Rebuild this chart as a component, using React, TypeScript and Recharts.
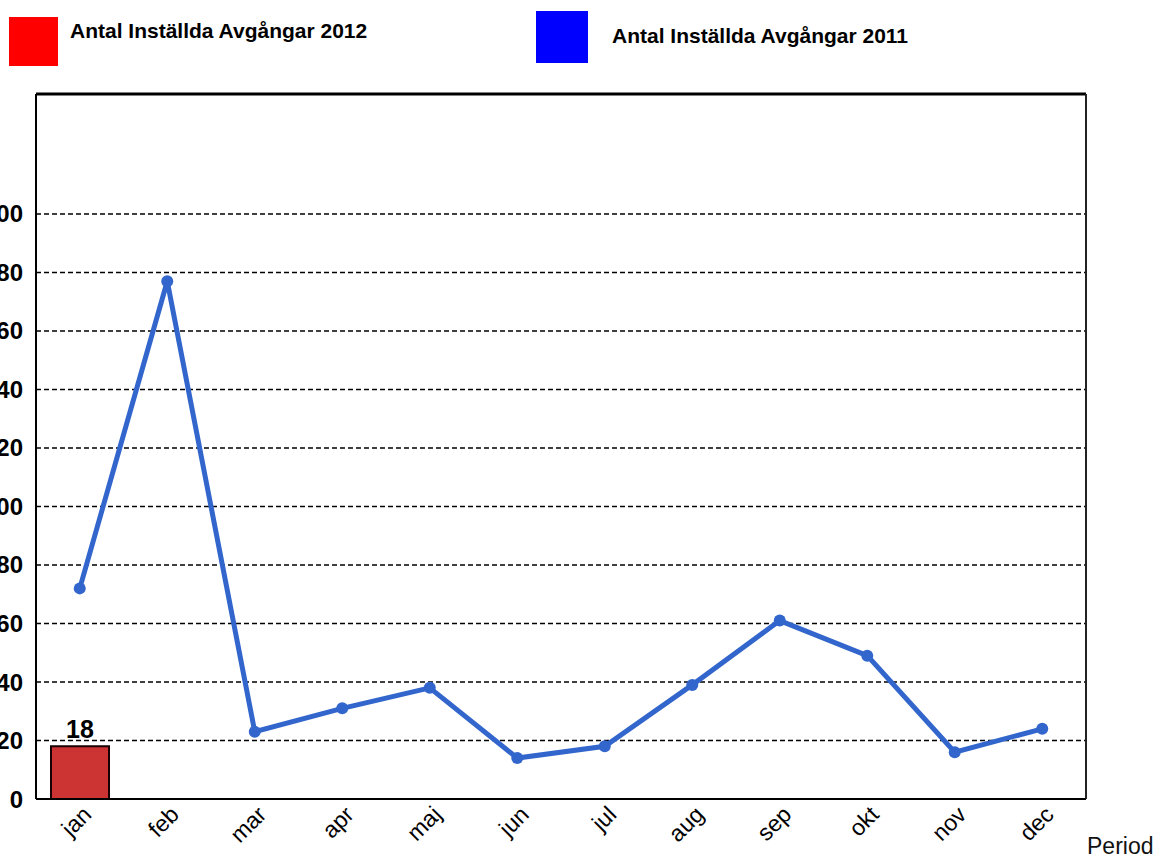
import React from 'react';
import {
  ComposedChart,
  Bar,
  Line,
  XAxis,
  YAxis,
  CartesianGrid,
  LabelList,
  ReferenceLine,
} from 'recharts';

const months = ['jan', 'feb', 'mar', 'apr', 'maj', 'jun', 'jul', 'aug', 'sep', 'okt', 'nov', 'dec'];
const values2012: (number | null)[] = [18, null, null, null, null, null, null, null, null, null, null, null];
const values2011: number[] = [72, 177, 23, 31, 38, 14, 18, 39, 61, 49, 16, 24];
const yTicks = [0, 20, 40, 60, 80, 100, 120, 140, 160, 180, 200];
const yMax = 241;
const legend2012 = 'Antal Inställda Avgångar 2012';
const legend2011 = 'Antal Inställda Avgångar 2011';
const xTitle = 'Period';

const data = months.map((m, i) => ({ month: m, v2012: values2012[i], v2011: values2011[i] }));

const FONT = '"Liberation Sans", Arial, Helvetica, sans-serif';

const XTick = (props: any) => {
  const { x, y, payload } = props;
  const ax = x + 13;
  const ay = y + 17;
  return (
    <text
      x={ax}
      y={ay}
      transform={`rotate(-45 ${ax} ${ay})`}
      textAnchor="end"
      fontSize={23}
      fontFamily={FONT}
      fill="#000"
    >
      {payload.value}
    </text>
  );
};

export default function App() {
  return (
    <div style={{ position: 'absolute', left: 0, top: 0, width: 1159, height: 854, background: '#fff', fontFamily: FONT }}>
      <div style={{ position: 'absolute', left: 9, top: 17, width: 49, height: 49, background: '#FF0000' }} />
      <div style={{ position: 'absolute', left: 70, top: 18, fontSize: 21, fontWeight: 'bold', color: '#000', lineHeight: '26px', whiteSpace: 'nowrap' }}>
        {legend2012}
      </div>
      <div style={{ position: 'absolute', left: 536, top: 11, width: 52, height: 52, background: '#0000FF' }} />
      <div style={{ position: 'absolute', left: 612, top: 23, fontSize: 21, fontWeight: 'bold', color: '#000', lineHeight: '26px', whiteSpace: 'nowrap' }}>
        {legend2011}
      </div>
      <div style={{ position: 'absolute', left: 0, top: 0 }}>
        <ComposedChart
          width={1159}
          height={854}
          data={data}
          margin={{ top: 94, right: 0, bottom: 0, left: 0 }}
        >
          <CartesianGrid
            xAxisId="bottom"
            yAxisId="left"
            horizontal
            vertical={false}
            stroke="#000"
            strokeDasharray="5 3"
            strokeWidth={1.5}
          />
          <XAxis
            dataKey="month"
            xAxisId="bottom"
            height={55}
            axisLine={{ stroke: '#000', strokeWidth: 2 }}
            tickLine={false}
            tickSize={0}
            tickMargin={0}
            interval={0}
            tick={<XTick />}
            label={{ value: xTitle, position: 'right', dx: -4, dy: 19, fontSize: 23, fontFamily: FONT, fill: '#111' }}
          />
          <YAxis
            yAxisId="left"
            width={36}
            domain={[0, yMax]}
            ticks={yTicks}
            interval={0}
            axisLine={{ stroke: '#000', strokeWidth: 2 }}
            tickLine={false}
            tickSize={0}
            tickMargin={13}
            tick={{ fontSize: 24, fontWeight: 'bold', fill: '#000', fontFamily: FONT }}
          />
          <YAxis
            yAxisId="right"
            orientation="right"
            width={73}
            domain={[0, yMax]}
            axisLine={{ stroke: '#222', strokeWidth: 2 }}
            tick={false}
            tickLine={false}
          />
          <ReferenceLine xAxisId="bottom" yAxisId="left" y={yMax} stroke="#000" strokeWidth={3} />
          <Bar
            dataKey="v2012"
            xAxisId="bottom"
            yAxisId="left"
            barSize={58}
            fill="#CC3333"
            stroke="#1a0000"
            strokeWidth={2}
            isAnimationActive={false}
          >
            <LabelList dataKey="v2012" position="top" offset={8} fontSize={25} fontWeight="bold" fill="#000" fontFamily={FONT} />
          </Bar>
          <Line
            dataKey="v2011"
            xAxisId="bottom"
            yAxisId="left"
            stroke="#3366CC"
            strokeWidth={5}
            dot={{ r: 6, fill: '#3366CC', stroke: 'none' }}
            activeDot={false}
            isAnimationActive={false}
          />
        </ComposedChart>
      </div>
    </div>
  );
}
